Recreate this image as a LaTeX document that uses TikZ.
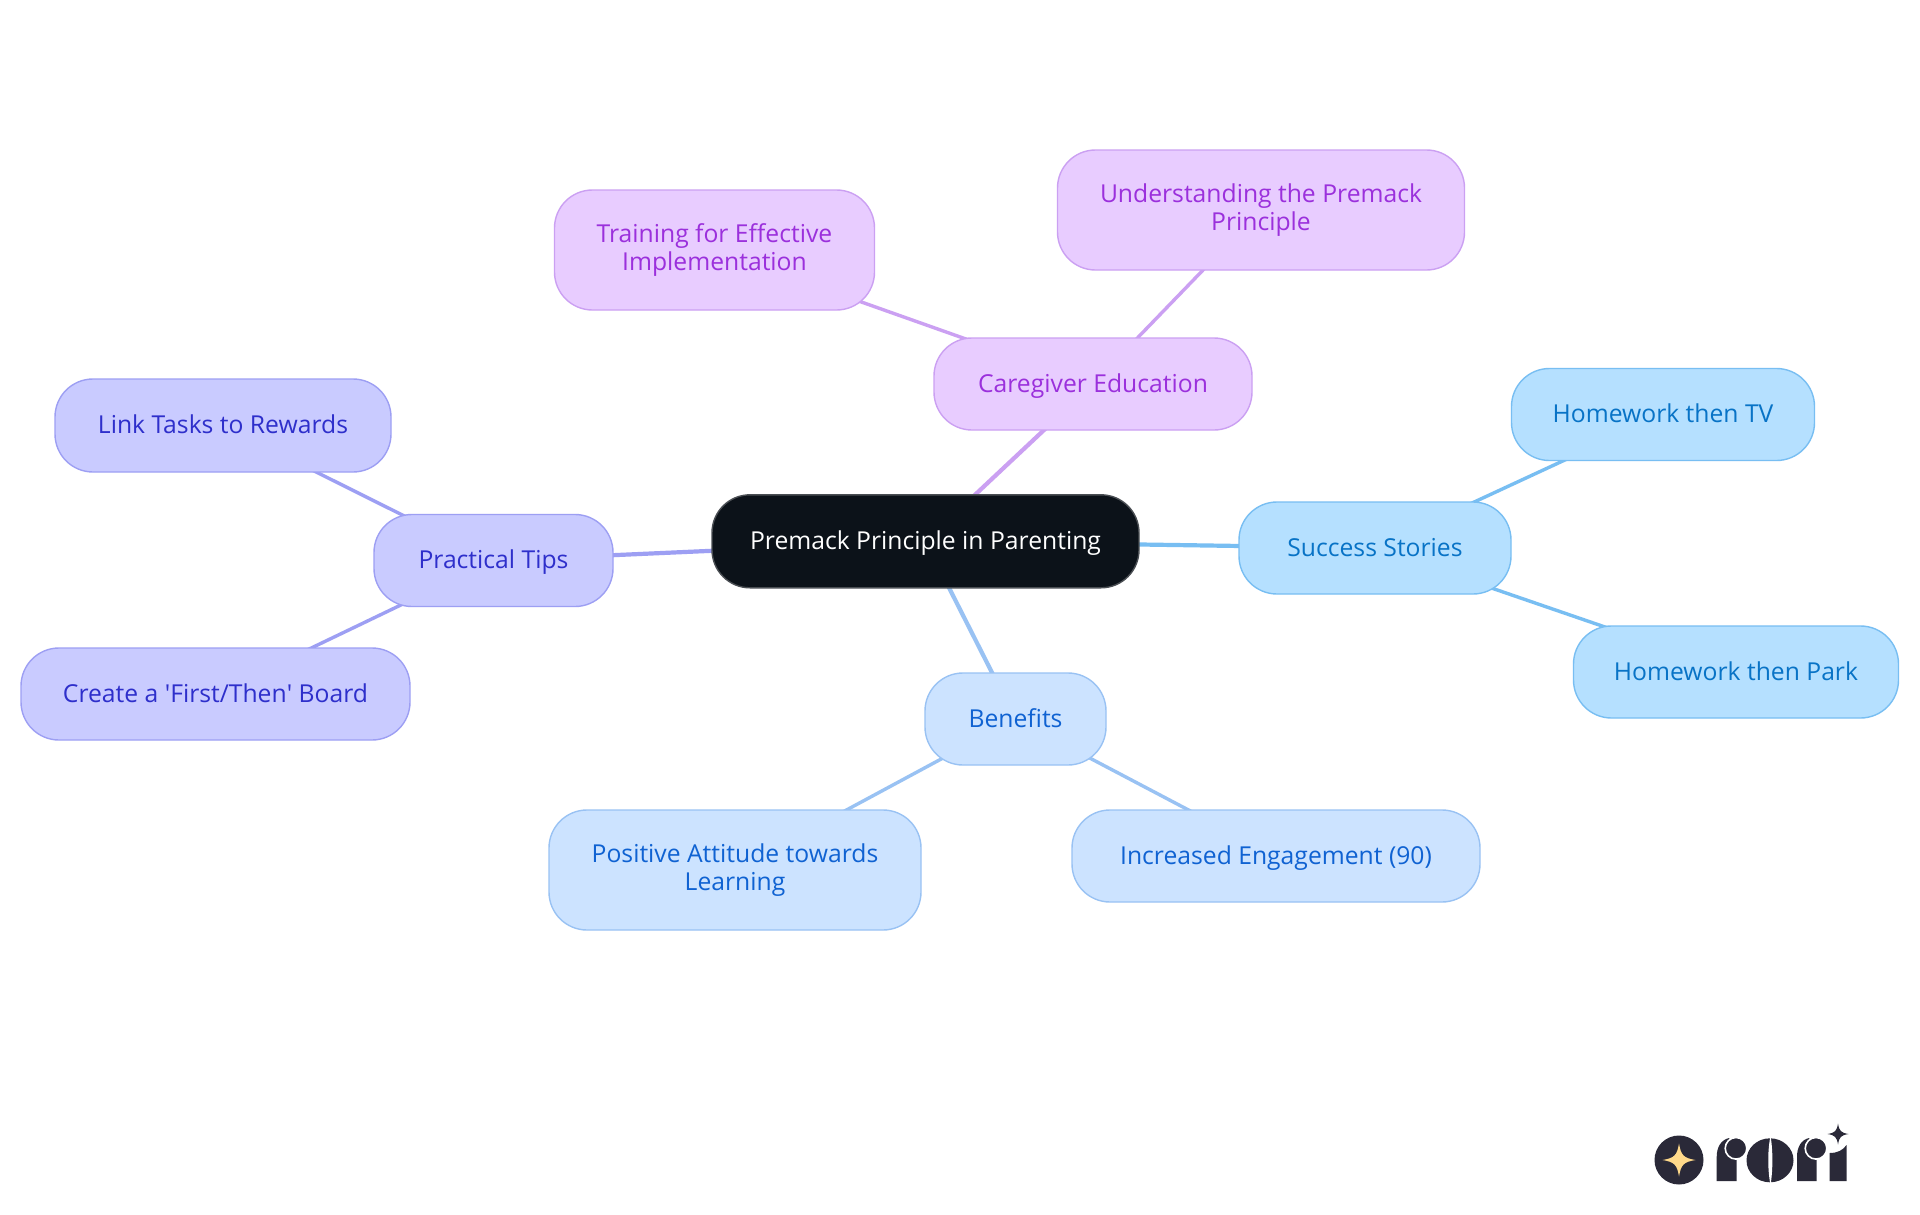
\documentclass[tikz,border=0pt]{standalone}
\usepackage{fontspec}
\setmainfont{Open Sans}
\usetikzlibrary{backgrounds}
\definecolor{rootfill}{HTML}{0C1219}
\definecolor{rootline}{HTML}{4A4E53}
\definecolor{purplefill}{HTML}{E8CCFF}
\definecolor{purpleline}{HTML}{CBA0F2}
\definecolor{purpletext}{HTML}{9B30DC}
\definecolor{indigofill}{HTML}{C9CBFF}
\definecolor{indigoline}{HTML}{9D9FF3}
\definecolor{indigotext}{HTML}{2E2FCB}
\definecolor{bluefill}{HTML}{CCE3FF}
\definecolor{blueline}{HTML}{99C2F3}
\definecolor{bluetext}{HTML}{0F62D2}
\definecolor{skyfill}{HTML}{B5E0FF}
\definecolor{skyline}{HTML}{78BEF2}
\definecolor{skytext}{HTML}{0873C6}
\definecolor{logodark}{HTML}{2A2938}
\definecolor{logostar}{HTML}{FFD98A}
\newcommand{\mapstrut}{\rule[-5.9pt]{0pt}{28pt}}
\tikzset{
  mapnode/.style={draw, line width=1.4pt, rounded corners=38pt, align=center, inner sep=0pt,
    font=\fontsize{24.7}{28}\selectfont,
    execute at begin node=\mapstrut, execute at end node=\mapstrut},
  rootnode/.style={mapnode, fill=rootfill, draw=rootline, text=white},
  purplenode/.style={mapnode, fill=purplefill, draw=purpleline, text=purpletext},
  indigonode/.style={mapnode, fill=indigofill, draw=indigoline, text=indigotext},
  bluenode/.style={mapnode, fill=bluefill, draw=blueline, text=bluetext},
  skynode/.style={mapnode, fill=skyfill, draw=skyline, text=skytext},
  logoball/.style={fill=logodark, draw=white, line width=1.6pt},
}
% four-pointed star: centre x, centre y, radius
\newcommand{\sparkle}[3]{%
  ({#1},{#2-#3}) .. controls ({#1+.12*#3},{#2-.28*#3}) and ({#1+.28*#3},{#2-.12*#3}) .. ({#1+#3},{#2})
  .. controls ({#1+.28*#3},{#2+.12*#3}) and ({#1+.12*#3},{#2+.28*#3}) .. ({#1},{#2+#3})
  .. controls ({#1-.12*#3},{#2+.28*#3}) and ({#1-.28*#3},{#2+.12*#3}) .. ({#1-#3},{#2})
  .. controls ({#1-.28*#3},{#2-.12*#3}) and ({#1-.12*#3},{#2-.28*#3}) .. cycle}
\begin{document}
\begin{tikzpicture}[x=1pt, y=-1pt]
  \useasboundingbox (0,0) rectangle (1920,1215);
  \node[rootnode, minimum width=427pt, minimum height=93pt] (root) at (925.5,541.3) {Premack Principle in Parenting};
  % caregiver branch
  \node[purplenode, minimum width=318pt, minimum height=92pt] (caregiver) at (1093,384) {Caregiver Education};
  \node[purplenode, minimum width=407pt, minimum height=120pt] (understanding) at (1261,210) {Understanding the Premack\\Principle};
  \node[purplenode, minimum width=320pt, minimum height=120pt] (training) at (714.5,250) {Training for Effective\\Implementation};
  % tips branch
  \node[indigonode, minimum width=239pt, minimum height=92pt] (tips) at (493.5,560.5) {Practical Tips};
  \node[indigonode, minimum width=336pt, minimum height=93pt] (link) at (223,425.5) {Link Tasks to Rewards};
  \node[indigonode, minimum width=389pt, minimum height=92pt] (board) at (215.5,694) {Create a \textquotesingle First/Then\textquotesingle\ Board};
  % benefits branch
  \node[bluenode, minimum width=181pt, minimum height=92pt] (benefits) at (1015.5,719) {Benefits};
  \node[bluenode, minimum width=372pt, minimum height=120pt] (attitude) at (735,870) {Positive Attitude towards\\Learning};
  \node[bluenode, minimum width=408pt, minimum height=92pt] (engagement) at (1276,856) {Increased Engagement (90)};
  % success branch
  \node[skynode, minimum width=272pt, minimum height=92pt] (success) at (1375,548) {Success Stories};
  \node[skynode, minimum width=303pt, minimum height=92pt] (tv) at (1663,414.5) {Homework then TV};
  \node[skynode, minimum width=325pt, minimum height=92pt] (park) at (1736,672) {Homework then Park};
  \begin{scope}[on background layer]
    \fill[white] (0,0) rectangle (1920,1215);
    \foreach \from/\to/\col/\wd in {root/caregiver/purpleline/4.2, caregiver/understanding/purpleline/3.4, caregiver/training/purpleline/3.4,
        root/tips/indigoline/4.2, tips/link/indigoline/3.4, tips/board/indigoline/3.4,
        root/benefits/blueline/4.2, benefits/attitude/blueline/3.4, benefits/engagement/blueline/3.4,
        root/success/skyline/4.2, success/tv/skyline/3.4, success/park/skyline/3.4}
      \draw[\col, line width=\wd pt] (\from.center) -- (\to.center);
  \end{scope}
  % logo
  \fill[logodark] (1679,1160) circle (24.5);
  \fill[logostar] \sparkle{1679}{1160}{16.5};
  \fill[logodark] (1716.7,1181) -- (1716.7,1157) .. controls (1716.7,1147) and (1721,1140) .. (1729,1138)
    -- (1736.7,1150) -- (1736.7,1181) -- cycle;
  \path[logoball] (1736,1148.3) circle (10.8);
  \fill[logodark] (1770,1160.3) ellipse (23.5 and 22);
  \fill[white] (1770.5,1136) .. controls (1767.5,1150) and (1767.5,1170) .. (1770.5,1185)
    .. controls (1773,1170) and (1773,1150) .. cycle;
  \fill[logodark] (1797,1181) -- (1797,1157) .. controls (1797,1147) and (1801,1140) .. (1809,1138)
    -- (1816.7,1150) -- (1816.7,1181) -- cycle;
  \path[logoball] (1816,1148.3) circle (10.8);
  \fill[logodark] (1829.5,1181) -- (1829.5,1153) .. controls (1838,1153) and (1843,1150) .. (1846.5,1145) -- (1846.5,1181) -- cycle;
  \fill[logodark] \sparkle{1838}{1134}{10.5};
\end{tikzpicture}
\end{document}
